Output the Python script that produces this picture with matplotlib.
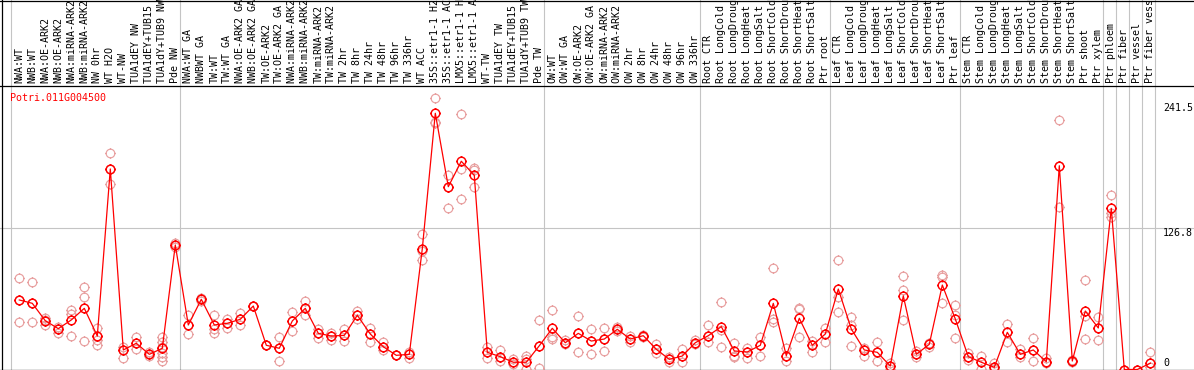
import numpy as np

import matplotlib
matplotlib.use("Agg")
import matplotlib.pyplot as plt
from matplotlib.lines import Line2D
from matplotlib.path import Path

GENE = "Potri.011G004500"

SAMPLES = [
    "NWA:WT", "NWB:WT", "NWA:OE-ARK2", "NWB:OE-ARK2", "NWA:miRNA-ARK2",
    "NWB:miRNA-ARK2", "NW 0hr", "WT H2O", "WT-NW", "TUA1dEY NW",
    "TUA1dEY+TUB15 NW", "TUA1dY+TUB9 NW", "Pde NW",
    "NWA:WT GA", "NWBWT GA", "TW:WT", "TW:WT GA", "NWA:OE-ARK2 GA",
    "NWB:OE-ARK2 GA", "TW:OE-ARK2", "TW:OE-ARK2 GA", "NWA:miRNA-ARK2 GA",
    "NWB:miRNA-ARK2 GA", "TW:miRNA-ARK2", "TW:miRNA-ARK2 GA", "TW 2hr",
    "TW 8hr", "TW 24hr", "TW 48hr", "TW 96hr", "TW 336hr", "WT ACC",
    "35S::etr1-1 H2O", "35S::etr1-1 ACC", "LMX5::etr1-1 H2O",
    "LMX5::etr1-1 ACC", "WT-TW", "TUA1dEY TW", "TUA1dEY+TUB15 TW",
    "TUA1dY+TUB9 TW", "Pde TW",
    "OW:WT", "OW:WT GA", "OW:OE-ARK2", "OW:OE-ARK2 GA", "OW:miRNA-ARK2",
    "OW:miRNA-ARK2 GA", "OW 2hr", "OW 8hr", "OW 24hr", "OW 48hr", "OW 96hr",
    "OW 336hr",
    "Root CTR", "Root LongCold", "Root LongDrought", "Root LongHeat",
    "Root LongSalt", "Root ShortCold", "Root ShortDrought", "Root ShortHeat",
    "Root ShortSalt", "Ptr root",
    "Leaf CTR", "Leaf LongCold", "Leaf LongDrought", "Leaf LongHeat",
    "Leaf LongSalt", "Leaf ShortCold", "Leaf ShortDrought", "Leaf ShortHeat",
    "Leaf ShortSalt", "Ptr leaf",
    "Stem CTR", "Stem LongCold", "Stem LongDrought", "Stem LongHeat",
    "Stem LongSalt", "Stem ShortCold", "Stem ShortDrought", "Stem ShortHeat",
    "Stem ShortSalt", "Ptr shoot", "Ptr xylem",
    "Ptr phloem", "Ptr fiber", "Ptr vessel", "Ptr fiber vessel",
]

GROUP_SIZES = [13, 28, 12, 10, 10, 11, 1, 1, 1, 1]

MEANS = [
    62.3, 59.3, 43.7, 36.6, 44.4, 54.8, 30.0, 179.7, 17.5, 23.5,
    13.6, 19.0, 111.6,
    39.9, 62.9, 39.9, 41.4, 45.0, 56.9, 21.7, 19.0, 43.5, 54.8,
    32.4, 30.0, 30.6, 48.6, 31.8, 20.4, 12.7, 13.6, 108.2, 229.6,
    163.8, 186.6, 174.0, 15.4, 11.5, 6.5, 6.5, 21.3,
    36.9, 24.0, 32.4, 25.5, 27.3, 36.0, 27.3, 30.3, 18.1, 9.1, 12.1, 24.0,
    30.3, 38.4, 16.6, 15.7, 21.7, 59.3, 12.4, 45.9, 21.7, 31.8,
    72.1, 36.3, 17.5, 15.4, 3.1, 65.9, 13.6, 22.6, 75.7, 45.3,
    11.5, 6.5, 2.0, 33.3, 13.6, 17.5, 7.0, 182.6, 7.6, 52.4, 37.2,
    144.4, 0.0, 0.0, 5.6,
]

REPLICATES = [
    [81.7, 42.3, 62.3], [78.1, 42.3, 59.3], [45.9, 39.9, 44.4],
    [38.4, 33.0, 36.6], [53.3, 49.7, 30.3], [73.7, 65.2, 25.5],
    [36.9, 26.4, 22.0, 30.0], [193.7, 166.0, 179.7], [20.4, 10.0, 17.9],
    [28.9, 18.1, 23.5], [15.4, 12.4, 13.6],
    [28.9, 24.4, 20.4, 14.5, 11.5, 7.9], [113.1, 110.0, 111.6],
    [48.8, 31.5, 39.9], [63.8, 61.6, 62.9], [48.8, 36.0, 33.0],
    [45.0, 37.2, 41.4], [50.9, 39.9, 45.0], [56.9, 56.9, 56.9],
    [21.7, 21.7, 21.7], [29.4, 7.9, 19.0], [51.3, 34.8, 43.5],
    [61.4, 48.6, 54.8], [36.3, 28.0, 32.4], [33.0, 26.4, 30.0],
    [36.3, 25.8, 30.6], [52.7, 45.0, 48.6], [36.9, 24.4, 31.8],
    [24.9, 17.5, 20.4], [12.7, 12.7, 12.7], [15.7, 10.6, 13.6],
    [121.1, 98.1, 106.2], [243.0, 222.0, 220.6], [174.3, 144.4, 163.8],
    [228.9, 179.4, 152.5], [180.8, 178.8, 163.8], [20.4, 10.0, 15.4],
    [17.5, 7.9, 11.5], [9.1, 4.9, 6.5], [12.4, 9.1, 0.2], [44.4, 1.1, 21.3],
    [53.3, 29.4, 27.1], [26.4, 22.8, 24.0], [47.7, 15.9, 32.4],
    [36.0, 13.6, 25.5], [37.2, 16.6, 27.3], [37.8, 36.0, 34.5],
    [30.3, 24.9, 27.3], [30.9, 30.3, 29.5], [22.8, 14.5, 18.1],
    [10.9, 7.0, 9.1], [18.4, 7.0, 12.1], [26.4, 22.8, 24.0],
    [39.6, 24.4, 30.3], [60.2, 35.4, 19.9], [23.5, 12.4, 10.9],
    [19.0, 10.0, 15.7], [29.4, 12.4, 21.7], [90.7, 45.0, 42.3],
    [19.0, 7.9, 12.4], [54.8, 53.9, 28.9], [25.8, 15.4, 21.7],
    [37.2, 24.4, 31.8], [98.1, 65.2, 51.3], [46.8, 39.9, 21.1],
    [19.0, 12.4, 17.5], [24.4, 7.9, 15.4], [5.6, 0.7, 3.1],
    [83.8, 71.2, 44.4], [16.6, 11.5, 13.6], [23.5, 20.4, 22.6],
    [84.7, 83.2, 59.3], [57.8, 48.8, 28.2], [14.5, 8.5, 11.5],
    [12.4, 0.2, 6.5], [5.6, 0.2, 2.0], [40.8, 24.4, 33.3],
    [18.4, 10.9, 13.6], [28.0, 7.6, 17.5], [10.0, 5.6, 7.0],
    [223.2, 145.3, 182.6], [8.5, 7.6, 7.0], [79.9, 48.2, 27.3],
    [47.0, 26.4, 37.2], [156.1, 136.9, 140.0], [0.0, 0.0], [0.0, 0.0],
    [15.9, 2.5, 5.6],
]

Y_TICKS = [241.5, 126.8, 0]

# pixel layout of the original image
W, H = 1194, 370
HEADER_H = 86
X0, DX = 19.3, 13.0          # first sample centre, sample pitch (px)
PX_PER_UNIT = 1.116
ZERO_PX = 0.5                # value 0 sits half a pixel above the bottom edge

RED = "#ff0000"
PINK = "#e8a0a0"
GRID = "#c4c4c4"
MONO = "DejaVu Sans Mono"
FS = 7.2

# open circle with four tiny ticks sticking out
TICK = 1.25
ticks = Path([(0, 1), (0, TICK), (0, -1), (0, -TICK),
              (1, 0), (TICK, 0), (-1, 0), (-TICK, 0)],
             [Path.MOVETO, Path.LINETO] * 4)
ring = Path.make_compound_path(Path.unit_circle(), ticks)
ms = 8.6 * TICK * 0.72

fig = plt.figure(figsize=(W / 100, H / 100), dpi=100)
ax = fig.add_axes([0, 0, 1, (H - HEADER_H) / H])
hax = fig.add_axes([0, (H - HEADER_H) / H, 1, HEADER_H / H])

xlim = (-X0 / DX, (W - X0) / DX)
ylim = (-ZERO_PX / PX_PER_UNIT, (H - HEADER_H - ZERO_PX) / PX_PER_UNIT)
for a in (ax, hax):
    a.set_xlim(*xlim)
    a.axis("off")
ax.set_ylim(*ylim)
hax.set_ylim(0, 1)

x = np.arange(len(SAMPLES))

# group separators
bounds = np.concatenate([[0], np.cumsum(GROUP_SIZES)]) - 0.65
for b in bounds:
    ax.axvline(b, color=GRID, lw=0.8, zorder=1)
    hax.axvline(b, color=GRID, lw=0.8, zorder=1)

ax.axhline(Y_TICKS[1], color=GRID, lw=0.8, zorder=1)
ax.axhline(0, color="black", lw=0.9, zorder=2)
hax.axhline(0, color="black", lw=0.9, clip_on=False)
hax.axhline(1 - 0.5 / HEADER_H, color="black", lw=0.9)
fig.add_artist(Line2D([1.5 / W, 1.5 / W], [0, 1], color="black", lw=0.9,
                      transform=fig.transFigure))

# replicates
for i, reps in enumerate(REPLICATES):
    ax.plot([i] * len(reps), reps, linestyle="none", marker=ring,
            markersize=ms, markerfacecolor="none", markeredgecolor=PINK,
            markeredgewidth=0.85, zorder=3, clip_on=False)

# means
ax.plot(x, MEANS, color=RED, lw=0.9, zorder=4, clip_on=False)
ax.plot(x, MEANS, linestyle="none", marker=ring, markersize=ms,
        markerfacecolor="none", markeredgecolor=RED, markeredgewidth=1.05,
        zorder=5, clip_on=False)

# sample labels in header
for i, s in enumerate(SAMPLES):
    hax.text(i, 2.6 / HEADER_H, s, rotation=90, ha="center", va="bottom",
             fontsize=FS, family=MONO, color="black")

# value labels on the right
label_x = 1163 / W
offsets = [-7.9, -5.8, 2.7]
for v, dy in zip(Y_TICKS, offsets):
    txt = f"{v:g}"
    ax.annotate(txt, xy=(label_x, v), xycoords=("figure fraction", "data"),
                xytext=(0, dy), textcoords="offset points",
                ha="left", va="baseline", fontsize=FS, family=MONO,
                color="black", annotation_clip=False)

fig.text(10 / W, 1 - 100.7 / H, GENE, ha="left", va="baseline",
         fontsize=FS, family=MONO, color=RED)

fig.savefig("out.png", dpi=100)
